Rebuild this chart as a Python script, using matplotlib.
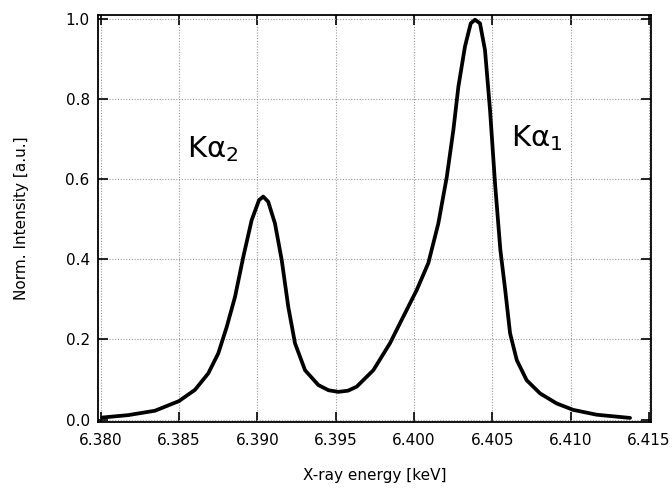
import matplotlib
matplotlib.use("Agg")
import matplotlib.pyplot as plt

energy = [6.3801, 6.38176, 6.38347, 6.3850, 6.38602, 6.38687, 6.38751, 6.38805,
          6.38858, 6.38911, 6.38964, 6.39011, 6.39038, 6.3907, 6.39113, 6.39156,
          6.39198, 6.39241, 6.39305, 6.3939, 6.39455, 6.39518, 6.39580, 6.39635,
          6.39741, 6.39847, 6.39911, 6.40018, 6.40092, 6.40156, 6.4021, 6.40252,
          6.40284, 6.40326, 6.40363, 6.4039, 6.40422, 6.40454, 6.40486, 6.40518,
          6.40552, 6.40583, 6.40614, 6.40657, 6.4072, 6.40806, 6.40912, 6.41018,
          6.41167, 6.4138]
intensity = [0.005, 0.011, 0.022, 0.046, 0.074, 0.115, 0.165, 0.231,
             0.306, 0.406, 0.497, 0.547, 0.556, 0.543, 0.489, 0.398,
             0.281, 0.190, 0.123, 0.086, 0.073, 0.069, 0.072, 0.082,
             0.123, 0.190, 0.240, 0.323, 0.390, 0.489, 0.605, 0.722,
             0.830, 0.930, 0.988, 0.997, 0.988, 0.921, 0.772, 0.589,
             0.423, 0.323, 0.215, 0.148, 0.098, 0.065, 0.040, 0.024,
             0.012, 0.004]

xticks = [6.380, 6.385, 6.390, 6.395, 6.400, 6.405, 6.410, 6.415]
yticks = [0.0, 0.2, 0.4, 0.6, 0.8, 1.0]

fig = plt.figure(figsize=(6.72, 4.88), dpi=100)
ax = fig.add_axes([0.1458, 0.1352, 0.823, 0.834])

ax.plot(energy, intensity, color="black", lw=2.7,
        solid_joinstyle="round", solid_capstyle="round")

ax.set_xlim(6.37983, 6.41514)
ax.set_ylim(-0.0062, 1.0087)
ax.set_xticks(xticks)
ax.set_xticklabels([f"{t:.3f}" for t in xticks])
ax.set_yticks(yticks)
ax.set_yticklabels([f"{t:.1f}" for t in yticks])

ax.grid(True, color="#999999", linestyle=(0, (1, 1.5)), linewidth=0.8)
ax.tick_params(direction="in", length=7, width=1.2, top=True, right=True,
               labelsize=11)
ax.tick_params(axis="x", pad=8)
ax.tick_params(axis="y", pad=6)
for s in ax.spines.values():
    s.set_linewidth(1.3)

ax.set_xlabel("X-ray energy [keV]", fontsize=11, labelpad=14)
ax.set_ylabel("Norm. Intensity [a.u.]", fontsize=11, labelpad=26)

ax.text(6.38551, 0.655, "Kα$_2$", fontsize=21, ha="left", va="baseline")
ax.text(6.40621, 0.682, "Kα$_1$", fontsize=21, ha="left", va="baseline")

fig.savefig("out.png", dpi=100)
